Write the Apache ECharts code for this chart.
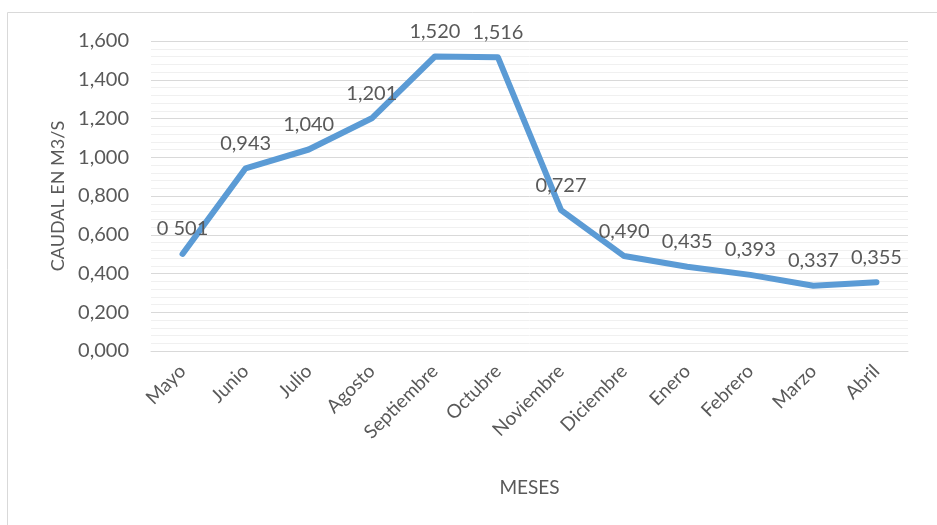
<!DOCTYPE html>
<html>
<head>
<meta charset="utf-8">
<script src="https://cdn.jsdelivr.net/npm/echarts@6/dist/echarts.min.js"></script>
<style>
  html, body { margin: 0; padding: 0; background: #fff; }
  #chart { width: 937px; height: 525px; }
</style>
</head>
<body>
<div id="chart"></div>
<script>
var meses = ['Mayo', 'Junio', 'Julio', 'Agosto', 'Septiembre', 'Octubre', 'Noviembre', 'Diciembre', 'Enero', 'Febrero', 'Marzo', 'Abril']
var caudal = [0.501, 0.943, 1.040, 1.201, 1.520, 1.516, 0.727, 0.490, 0.435, 0.393, 0.337, 0.355]
var yMin = 0
var yMax = 1.6
var yStep = 0.2

var gray = '#595959'
var font = 'Lato, "Open Sans", sans-serif'

function fmt(v) {
  return v.toFixed(3).replace('.', ',')
}

var chart = echarts.init(document.getElementById('chart'))
chart.setOption({
  animation: false,
  textStyle: { fontFamily: font },
  graphic: [{
    type: 'rect',
    shape: { x: 7.5, y: 12.5, width: 940, height: 520 },
    style: { fill: 'none', stroke: '#d9d9d9', lineWidth: 1 },
    silent: true
  }],
  grid: {
    left: 151,
    right: 29,
    top: 41,
    bottom: 174
  },
  xAxis: {
    type: 'category',
    data: meses,
    boundaryGap: true,
    name: 'MESES',
    nameLocation: 'middle',
    nameGap: 127,
    nameTextStyle: { color: gray, fontSize: 19, fontFamily: font },
    axisLine: { lineStyle: { color: '#d9d9d9', width: 1 } },
    axisTick: { show: false },
    axisLabel: {
      rotate: 45,
      margin: 17,
      color: gray,
      fontSize: 19,
      fontFamily: font,
      interval: 0
    }
  },
  yAxis: {
    type: 'value',
    min: yMin,
    max: yMax,
    interval: yStep,
    name: 'CAUDAL EN M3/S',
    nameLocation: 'middle',
    nameGap: 84,
    nameTextStyle: { color: gray, fontSize: 18, fontFamily: font },
    axisLine: { show: false },
    axisTick: { show: false },
    axisLabel: {
      margin: 22,
      color: gray,
      fontSize: 20,
      fontFamily: font,
      formatter: fmt
    },
    splitLine: { lineStyle: { color: '#d9d9d9', width: 1 } },
    minorTick: { show: false, splitNumber: 5 },
    minorSplitLine: { show: true, lineStyle: { color: '#f0f0f0', width: 1 } }
  },
  series: [{
    type: 'line',
    data: caudal,
    symbol: 'circle',
    symbolSize: 2,
    showSymbol: true,
    lineStyle: { color: '#5b9bd5', width: 6, cap: 'round', join: 'round' },
    itemStyle: { color: '#5b9bd5' },
    labelLayout: { hideOverlap: false },
    label: {
      show: true,
      position: 'top',
      distance: 14,
      color: gray,
      fontSize: 20,
      fontFamily: font,
      formatter: function (p) {
        // the first label reads "0 501" in the reference
        return p.dataIndex === 0 ? '0 501' : fmt(p.value)
      }
    }
  }]
})
</script>
</body>
</html>
